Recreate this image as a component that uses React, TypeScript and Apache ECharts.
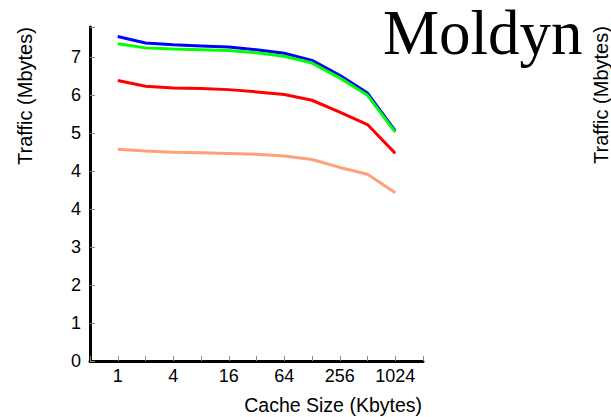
import React, { useEffect, useRef } from "react";
import * as echarts from "echarts";

// Cache sizes in Kbytes (x axis is log2)
const cacheSizes = [1, 2, 4, 8, 16, 32, 64, 128, 256, 512, 1024];
const xTickLabels = ["1", "4", "16", "64", "256", "1024"];
// Y tick labels as printed on the original chart (note the repeated "4")
const yTickLabels = ["0", "1", "2", "3", "4", "4", "5", "6", "7"];

// Series values in axis units
const blueSeries = [8.55, 8.38, 8.33, 8.3, 8.27, 8.2, 8.11, 7.92, 7.53, 7.06, 6.06];
const greenSeries = [8.36, 8.25, 8.22, 8.2, 8.18, 8.12, 8.03, 7.85, 7.46, 7.0, 6.03];
const redSeries = [7.39, 7.24, 7.19, 7.18, 7.15, 7.09, 7.02, 6.87, 6.56, 6.23, 5.47];
const salmonSeries = [5.58, 5.53, 5.5, 5.49, 5.47, 5.45, 5.4, 5.31, 5.1, 4.92, 4.43];

const SANS = "'Liberation Sans', Arial, Helvetica, sans-serif";

export default function App() {
  const ref = useRef<HTMLDivElement>(null);
  useEffect(() => {
    if (!ref.current) return;
    const chart = echarts.init(ref.current, undefined, { renderer: "svg" });
    const pts = (arr: number[]) => arr.map((v, i) => [Math.log2(cacheSizes[i]), v]);
    const mk = (name: string, data: number[], color: string) => ({
      name,
      type: "line",
      data: pts(data),
      showSymbol: false,
      symbol: "none",
      lineStyle: { color, width: 3 },
      itemStyle: { color },
    });
    chart.setOption({
      animation: false,
      backgroundColor: "#fff",
      grid: { left: 90, right: 188, top: 27, bottom: 56, containLabel: false },
      xAxis: {
        type: "value",
        min: -1,
        max: 11,
        interval: 1,
        axisLine: { show: true, onZero: false, lineStyle: { color: "#000", width: 3 } },
        axisTick: { show: true, inside: true, length: 5, lineStyle: { color: "#888", width: 1 } },
        splitLine: { show: false },
        axisLabel: {
          margin: 6,
          color: "#000",
          fontFamily: SANS,
          fontSize: 18,
          showMinLabel: true,
          showMaxLabel: true,
          formatter: (v: number) => {
            const s = String(Math.round(Math.pow(2, v)));
            return v >= 0 && xTickLabels.includes(s) && Number.isInteger(v) ? s : "";
          },
        },
      },
      yAxis: {
        type: "value",
        min: 0,
        max: 8.8,
        interval: 1,
        axisLine: { show: true, onZero: false, lineStyle: { color: "#000", width: 3 } },
        axisTick: { show: true, inside: true, length: 5, lineStyle: { color: "#888", width: 1 } },
        splitLine: { show: false },
        axisLabel: {
          margin: 9,
          color: "#000",
          fontFamily: SANS,
          fontSize: 18,
          formatter: (v: number) => (Number.isInteger(v) && yTickLabels[v] !== undefined ? yTickLabels[v] : ""),
        },
      },
      graphic: [
        {
          type: "text",
          x: 383,
          y: 33,
          style: {
            text: "Moldyn",
            font: "63px 'Liberation Serif', 'Times New Roman', serif",
            fill: "#000",
            textAlign: "left",
            textVerticalAlign: "middle",
          },
        },
        {
          type: "text",
          x: 25,
          y: 96,
          rotation: Math.PI / 2,
          style: {
            text: "Traffic (Mbytes)",
            font: `20px ${SANS}`,
            fill: "#000",
            textAlign: "center",
            textVerticalAlign: "middle",
          },
        },
        {
          type: "text",
          x: 601,
          y: 95,
          rotation: Math.PI / 2,
          style: {
            text: "Traffic (Mbytes)",
            font: `20px ${SANS}`,
            fill: "#000",
            textAlign: "center",
            textVerticalAlign: "middle",
          },
        },
        {
          type: "text",
          x: 422,
          y: 405,
          style: {
            text: "Cache Size (Kbytes)",
            font: `19.5px ${SANS}`,
            fill: "#000",
            textAlign: "right",
            textVerticalAlign: "middle",
          },
        },
      ],
      series: [
        mk("salmon", salmonSeries, "#ffa07a"),
        mk("red", redSeries, "#ff0000"),
        mk("blue", blueSeries, "#0000ff"),
        mk("green", greenSeries, "#00ff00"),
      ],
    });
    return () => chart.dispose();
  }, []);
  return (
    <div
      ref={ref}
      style={{ position: "fixed", left: 0, top: 0, width: 611, height: 417 }}
    />
  );
}
